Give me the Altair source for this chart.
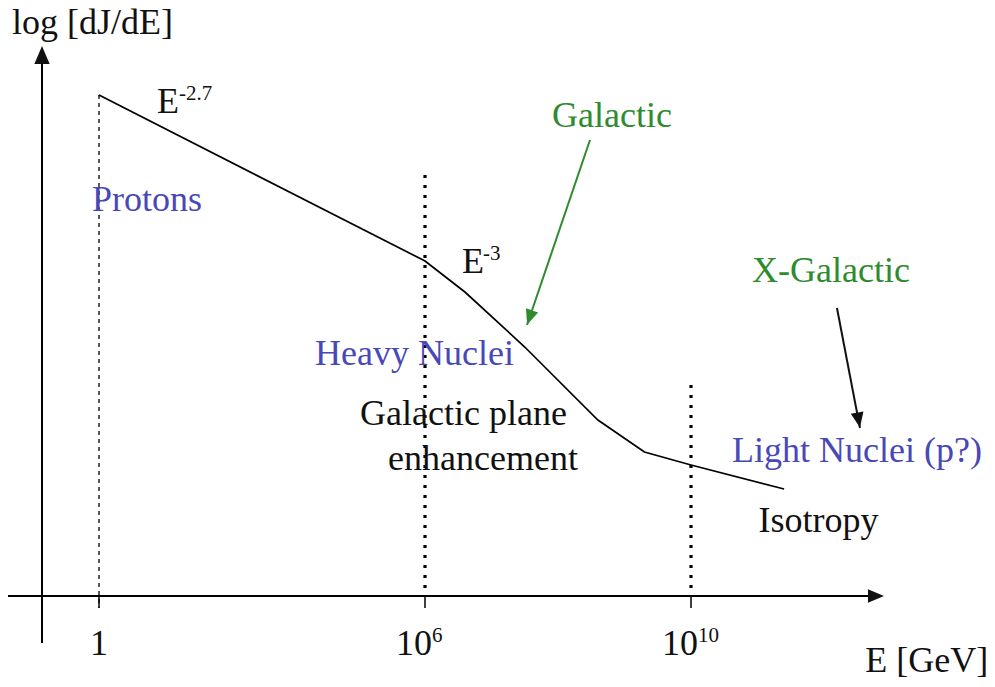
import altair as alt
import pandas as pd

# ---- schematic cosmic-ray spectrum (x = log10(E/GeV), y = log flux, arbitrary units)
spec_logE = [0, 6, 6.6, 7.5, 8.6, 9.3, 10, 11.4]
spec_logJ = [10.02, 6.7, 6.08, 4.98, 3.52, 2.88, 2.62, 2.14]

# ---- marked energies on the axis
tick_logE = [0, 6, 10]
tick_base = ["1", "10", "10"]
tick_exp = ["", "6", "10"]
guide_top = [10.02, 8.42, 4.22]

# ---- text annotations
ann_text = ["log [dJ/dE]", "E", "-2.7", "Protons", "Galactic", "E", "-3",
            "X-Galactic", "Heavy Nuclei", "Galactic plane", "enhancement",
            "Light Nuclei (p?)", "Isotropy", "E [GeV]"]
ann_x = [-1.60, 1.067, 1.472, -0.129, 7.91, 6.556, 6.872,
         10.917, 3.975, 4.804, 5.319, 10.617, 11.015, 12.62]
ann_y = [11.24, 9.66, 9.92, 7.70, 9.38, 6.46, 6.72,
         6.28, 4.62, 3.42, 2.52, 2.68, 1.28, -1.52]
ann_size = [36, 36, 21, 36, 36, 36, 21, 36, 36, 36, 36, 36, 36, 36]
BLUE, GREEN, BLACK = "#4848b8", "#2e8b2e", "#111111"
ann_color = [BLACK, BLACK, BLACK, BLUE, GREEN, BLACK, BLACK,
             GREEN, BLUE, BLACK, BLACK, BLUE, BLACK, BLACK]

# ---- arrows (start, tip) and arrow heads
arrow_x = [8.481, 12.195]
arrow_y = [9.12, 5.76]
arrow_x2 = [7.534, 12.541]
arrow_y2 = [5.42, 3.36]
arrow_color = [GREEN, BLACK]
head_x = [7.573, 12.519, 12.782, -1.049]
head_y = [5.57, 3.518, 0.0, 10.82]
head_angle = [198.8, 169.2, 90, 0]
head_color = [GREEN, BLACK, BLACK, BLACK]
head_size = [230, 230, 256, 324]

W, H = 979, 671
xs = alt.Scale(domain=[0, 6, 10], range=[91, 417, 683], nice=False, zero=False)
ys = alt.Scale(domain=[-1.66, 11.76], nice=False, zero=False)
FONT = "Liberation Serif"

spec = pd.DataFrame({"x": spec_logE, "y": spec_logJ})
ticks = pd.DataFrame({"x": tick_logE, "top": guide_top, "base": tick_base,
                      "exp": tick_exp, "axis": [0.0] * 3, "below": [-0.24] * 3,
                      "lab": [-1.18] * 3, "sup": [-0.92] * 3})
ann = pd.DataFrame({"x": ann_x, "y": ann_y, "t": ann_text, "s": ann_size,
                    "c": ann_color})
arrows = pd.DataFrame({"x": arrow_x, "y": arrow_y, "x2": arrow_x2,
                       "y2": arrow_y2, "c": arrow_color})
heads = pd.DataFrame({"x": head_x, "y": head_y, "a": head_angle,
                      "c": head_color, "s": head_size})
axes = pd.DataFrame({"x": [-1.675, -1.049], "x2": [12.782, -1.049],
                     "y": [0.0, -0.94], "y2": [0.0, 10.82]})


def X(f="x"):
    return alt.X(f"{f}:Q", scale=xs, axis=None)


def Y(f="y"):
    return alt.Y(f"{f}:Q", scale=ys, axis=None)


axis_lines = alt.Chart(axes).mark_rule(color="black", strokeWidth=2).encode(
    x=X(), x2="x2:Q", y=Y(), y2="y2:Q")

guide1 = alt.Chart(ticks[ticks.x == 0]).mark_rule(
    color="#222", strokeWidth=1.5, strokeDash=[4, 4]).encode(
    x=X(), y=Y("top"), y2="below:Q")
guide2 = alt.Chart(ticks[ticks.x > 0]).mark_rule(
    color="black", strokeWidth=3.2, strokeDash=[3, 7], strokeCap="butt").encode(
    x=X(), y=Y("top"), y2="axis:Q")
tickmarks = alt.Chart(ticks).mark_rule(color="black", strokeWidth=1.5).encode(
    x=X(), y=Y("axis"), y2="below:Q")

line = alt.Chart(spec).mark_line(color="black", strokeWidth=1.7).encode(
    x=X(), y=Y(), order="x:Q")

arrow_lines = alt.Chart(arrows).mark_rule(strokeWidth=2).encode(
    x=X(), x2="x2:Q", y=Y(), y2="y2:Q", color=alt.Color("c:N", scale=None))

arrow_heads = alt.Chart(heads).mark_point(
    shape="M0,-1L0.85,1L-0.85,1Z", filled=True, opacity=1, strokeWidth=0).encode(
    x=X(), y=Y(), angle=alt.Angle("a:Q", scale=None),
    color=alt.Color("c:N", scale=None), size=alt.Size("s:Q", scale=None))

texts = alt.Chart(ann).mark_text(align="left", baseline="alphabetic",
                                 font=FONT).encode(
    x=X(), y=Y(), text="t:N", size=alt.Size("s:Q", scale=None),
    color=alt.Color("c:N", scale=None))

lab_one = alt.Chart(ticks[ticks.x == 0]).mark_text(
    align="center", baseline="alphabetic", font=FONT, fontSize=36,
    color=BLACK).encode(x=X(), y=Y("lab"), text="base:N")
lab_base = alt.Chart(ticks[ticks.x > 0]).mark_text(
    align="right", baseline="alphabetic", font=FONT, fontSize=36,
    color=BLACK, dx=7).encode(x=X(), y=Y("lab"), text="base:N")
lab_exp = alt.Chart(ticks[ticks.x > 0]).mark_text(
    align="left", baseline="alphabetic", font=FONT, fontSize=21,
    color=BLACK, dx=7).encode(x=X(), y=Y("sup"), text="exp:N")

chart = alt.layer(
    axis_lines, guide1, guide2, tickmarks, line, arrow_lines, arrow_heads,
    texts, lab_one, lab_base, lab_exp
).properties(width=W, height=H, padding=0, autosize="none",
             background="white").configure_view(stroke=None)

chart.save("out.html", embed_options={"renderer": "svg", "actions": False})
